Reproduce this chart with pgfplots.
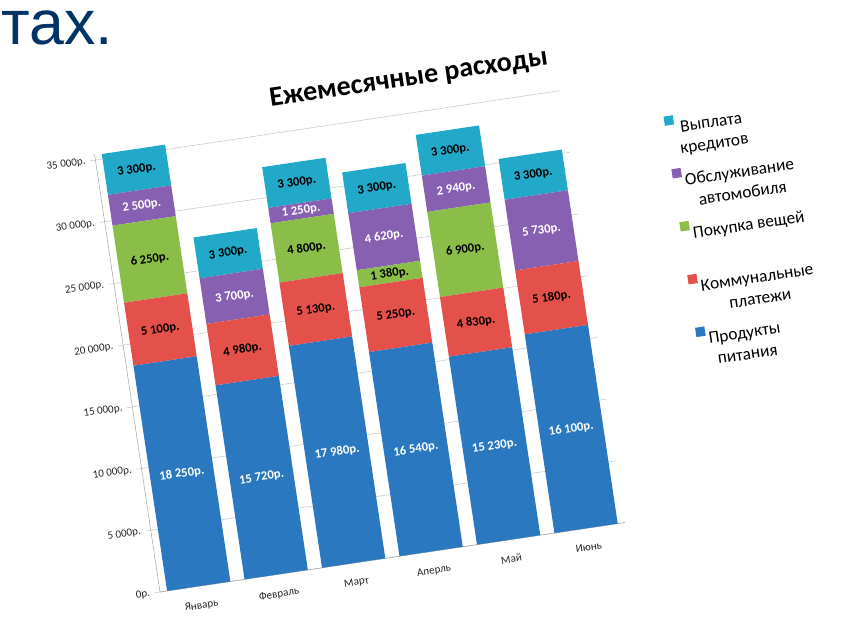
\documentclass[border=0pt]{standalone}
\usepackage{pgfplots}
\pgfplotsset{compat=1.18}
\usepackage{pgfplotstable}
\usepackage{fontspec}
\setmainfont{Carlito}
\newfontfamily\arialf{Liberation Sans}
\definecolor{titleblue}{RGB}{0,51,102}
\definecolor{fdM}{HTML}{2A78C0}
\definecolor{utM}{HTML}{E4504A}
\definecolor{gdM}{HTML}{8BBE48}
\definecolor{crM}{HTML}{8860B2}
\definecolor{cdM}{HTML}{22A8C8}

\pgfplotstableread{
x food util goods car credit
0 18250 5100 6250 2500 3300
1 15720 4980 0 3700 3300
2 17980 5130 4800 1250 3300
3 16540 5250 1380 4620 3300
4 15230 4830 6900 2940 3300
5 16100 5180 0 5730 3300
}\data

\pgfplotstableread{
x y lab
0 9125 {18 250р.}
1 7860 {15 720р.}
2 8990 {17 980р.}
3 8270 {16 540р.}
4 7615 {15 230р.}
5 8050 {16 100р.}
0 30850 {2 500р.}
1 22550 {3 700р.}
2 28535 {1 250р.}
3 25480 {4 620р.}
4 28430 {2 940р.}
5 24145 {5 730р.}
}\whitelabs

\pgfplotstableread{
x y lab
0 20800 {5 100р.}
1 18210 {4 980р.}
2 20545 {5 130р.}
3 19165 {5 250р.}
4 17645 {4 830р.}
5 18690 {5 180р.}
0 26475 {6 250р.}
2 25510 {4 800р.}
3 22480 {1 380р.}
4 23510 {6 900р.}
0 33750 {3 300р.}
1 26050 {3 300р.}
2 30810 {3 300р.}
3 29440 {3 300р.}
4 31550 {3 300р.}
5 28660 {3 300р.}
}\blacklabs

\begin{document}
\begin{tikzpicture}
\path[use as bounding box] (0,0) rectangle (630.75pt,464.25pt);
\node[anchor=base west, inner sep=0pt, font=\arialf\fontsize{47}{50}\selectfont, text=titleblue] at (1pt,430.5pt) {тах.};
\begin{scope}[rotate around={8.5:(120pt,20.25pt)}, transform shape]
\begin{axis}[
  at={(120pt,20.25pt)}, anchor=south west,
  scale only axis, width=352.5pt, height=332.25pt,
  ybar stacked, bar width=48pt,
  xmin=-0.5, xmax=5.5, ymin=0, ymax=35500,
  scaled y ticks=false,
  xtick={0,...,5},
  xticklabels={Январь,Февраль,Март,Аперль,Май,Июнь},
  extra x ticks={-0.5,0.5,1.5,2.5,3.5,4.5,5.5},
  extra x tick labels={},
  extra x tick style={grid=none, major tick length=5pt},
  major x tick style={draw=none},
  ytick={0,5000,...,35000},
  yticklabels={0р.,5 000р.,10 000р.,15 000р.,20 000р.,25 000р.,30 000р.,35 000р.},
  axis x line*=bottom, axis y line*=left,
  axis line style={draw=gray!70, -},
  tick style={draw=gray!70},
  tick align=outside, major tick length=4pt,
  ymajorgrids, grid style={gray!45},
  ticklabel style={font=\fontsize{8.3}{10}\selectfont, text=black!85},
  xticklabel style={yshift=-4pt},
  title={Ежемесячные расходы},
  title style={at={(0.685,1.045)}, anchor=center, font=\bfseries\fontsize{21}{24}\selectfont},
  reverse legend,
  legend style={at={(1.2,0.9)}, anchor=north west, draw=none, fill=none,
    font=\fontsize{13}{16}\selectfont, cells={anchor=west, align=center},
    row sep=7pt},
  legend image code/.code={\fill[#1] (0pt,11pt) rectangle (7pt,18pt);},
]
\addplot[draw=none, fill=fdM] table[x=x,y=food]{\data};
\addlegendentry{Продукты\\питания}
\addplot[draw=none, fill=utM] table[x=x,y=util]{\data};
\addlegendentry{Коммунальные\\платежи}
\addplot[draw=none, fill=gdM] table[x=x,y=goods]{\data};
\addlegendentry{Покупка вещей\\\strut}
\addplot[draw=none, fill=crM] table[x=x,y=car]{\data};
\addlegendentry{Обслуживание\\автомобиля}
\addplot[draw=none, fill=cdM] table[x=x,y=credit]{\data};
\addlegendentry{Выплата\\кредитов}
\end{axis}
\begin{axis}[
  at={(120pt,20.25pt)}, anchor=south west,
  scale only axis, width=352.5pt, height=332.25pt,
  xmin=-0.5, xmax=5.5, ymin=0, ymax=35500,
  hide axis,
]
\addplot[draw=none, mark=none, nodes near coords, point meta=explicit symbolic,
  nodes near coords align={center},
  every node near coord/.append style={font=\bfseries\fontsize{9.5}{11}\selectfont, text=white}]
  table[x=x,y=y,meta=lab]{\whitelabs};
\addplot[draw=none, mark=none, nodes near coords, point meta=explicit symbolic,
  nodes near coords align={center},
  every node near coord/.append style={font=\bfseries\fontsize{9.5}{11}\selectfont, text=black}]
  table[x=x,y=y,meta=lab]{\blacklabs};
\end{axis}
\end{scope}
\end{tikzpicture}
\end{document}
